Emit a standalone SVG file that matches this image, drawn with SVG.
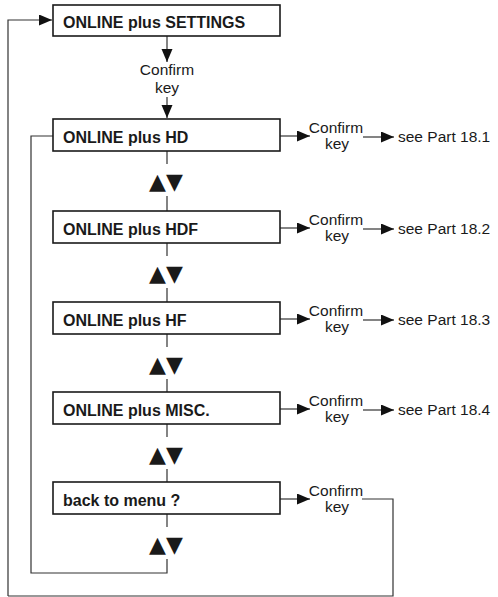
<svg xmlns="http://www.w3.org/2000/svg" width="498" height="597" viewBox="0 0 498 597">
<style>
.box{fill:#fff;stroke:#1a1a1a;stroke-width:1.6}
.lbl{font-family:"Liberation Sans",Arial,sans-serif;font-weight:bold;font-size:16px;fill:#1a1a1a}
.txt{font-family:"Liberation Sans",Arial,sans-serif;font-size:15.5px;fill:#1a1a1a}
.sym{font-family:"DejaVu Sans",sans-serif;font-size:22px;fill:#1a1a1a}
.ln{fill:none;stroke:#333;stroke-width:1.2}
.arr{fill:none;stroke:#333;stroke-width:1.2;marker-end:url(#ah)}
</style>
<defs>
<marker id="ah" markerUnits="userSpaceOnUse" markerWidth="14" markerHeight="12" refX="13" refY="5.5" orient="auto">
<path d="M0,0 L13,5.5 L0,11 z" fill="#111"/>
</marker>
</defs>
<g id="connectors">
<path class="arr" d="M167,36 V62"/>
<path class="arr" d="M167,97 V118"/>
<path class="arr" d="M8,596 V20 H52"/>
<path class="ln" d="M53,136 H31 V573 H167 V559"/>
<path class="ln" d="M362,499 H393 V596 H8"/>
<path class="ln" d="M167,151 V164 M167,196 V211"/>
<path class="ln" d="M167,243 V256 M167,288 V302"/>
<path class="ln" d="M167,334 V347 M167,379 V392"/>
<path class="ln" d="M167,424 V437 M167,469 V482"/>
<path class="ln" d="M167,514 V527"/>
<path class="arr" d="M280,136 H310"/>
<path class="arr" d="M363,137 H394"/>
<path class="arr" d="M280,228 H310"/>
<path class="arr" d="M363,229 H394"/>
<path class="arr" d="M280,319 H310"/>
<path class="arr" d="M363,320 H394"/>
<path class="arr" d="M280,409 H310"/>
<path class="arr" d="M363,410 H394"/>
<path class="arr" d="M280,499 H310"/>
</g>
<g id="confirm-top">
<text class="txt" x="167" y="75" text-anchor="middle">Confirm</text>
<text class="txt" x="167" y="93" text-anchor="middle">key</text>
</g>
<g id="n-settings">
<rect class="box" x="53" y="5" width="227" height="31"/>
<text class="lbl" x="63" y="28">ONLINE plus SETTINGS</text>
</g>
<g id="n-hd">
<rect class="box" x="53" y="119" width="227" height="32"/>
<text class="lbl" x="63" y="143">ONLINE plus HD</text>
</g>
<g id="n-hdf">
<rect class="box" x="53" y="211" width="227" height="32"/>
<text class="lbl" x="63" y="235">ONLINE plus HDF</text>
</g>
<g id="n-hf">
<rect class="box" x="53" y="302" width="227" height="32"/>
<text class="lbl" x="63" y="326">ONLINE plus HF</text>
</g>
<g id="n-misc">
<rect class="box" x="53" y="392" width="227" height="32"/>
<text class="lbl" x="63" y="416">ONLINE plus MISC.</text>
</g>
<g id="n-back">
<rect class="box" x="53" y="482" width="227" height="32"/>
<text class="lbl" x="63" y="506">back to menu ?</text>
</g>
<g id="updown">
<text class="sym" x="166" y="189" text-anchor="middle">▲▼</text>
<text class="sym" x="166" y="281" text-anchor="middle">▲▼</text>
<text class="sym" x="166" y="372" text-anchor="middle">▲▼</text>
<text class="sym" x="166" y="462" text-anchor="middle">▲▼</text>
<text class="sym" x="166" y="552" text-anchor="middle">▲▼</text>
</g>
<g id="confirm-labels">
<text class="txt" x="336" y="133" text-anchor="middle">Confirm</text>
<text class="txt" x="337" y="149" text-anchor="middle">key</text>
<text class="txt" x="398" y="142">see Part 18.1</text>
<text class="txt" x="336" y="225" text-anchor="middle">Confirm</text>
<text class="txt" x="337" y="241" text-anchor="middle">key</text>
<text class="txt" x="398" y="234">see Part 18.2</text>
<text class="txt" x="336" y="316" text-anchor="middle">Confirm</text>
<text class="txt" x="337" y="332" text-anchor="middle">key</text>
<text class="txt" x="398" y="325">see Part 18.3</text>
<text class="txt" x="336" y="406" text-anchor="middle">Confirm</text>
<text class="txt" x="337" y="422" text-anchor="middle">key</text>
<text class="txt" x="398" y="415">see Part 18.4</text>
<text class="txt" x="336" y="496" text-anchor="middle">Confirm</text>
<text class="txt" x="337" y="512" text-anchor="middle">key</text>
</g>
</svg>
